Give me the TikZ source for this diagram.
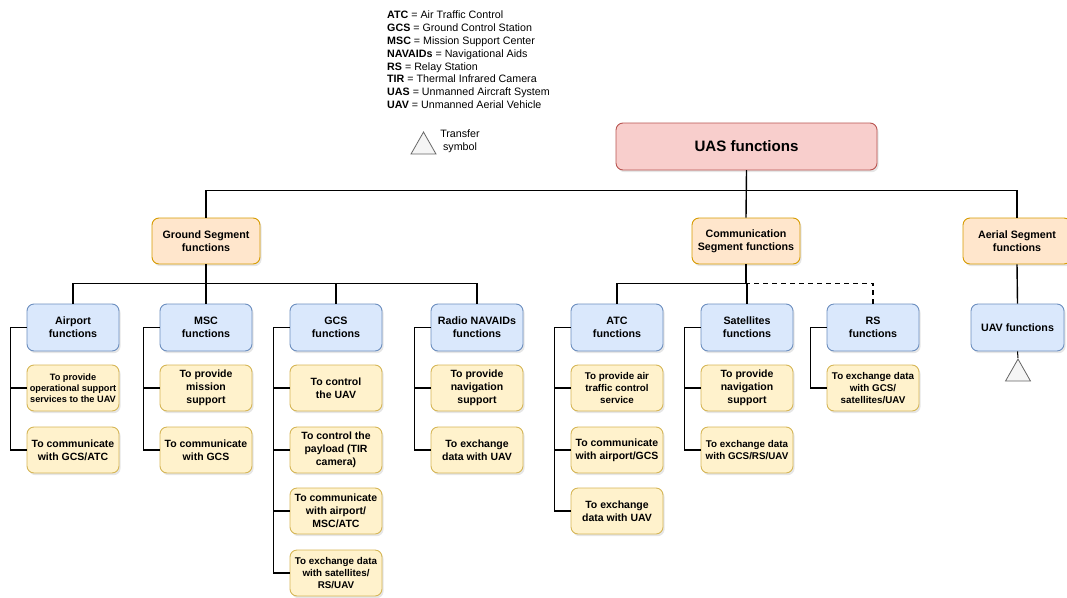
\documentclass[tikz,border=0pt]{standalone}
\usepackage{fontspec}
\setmainfont{Liberation Sans}
\usetikzlibrary{shadows,shapes.geometric}

\definecolor{rootfill}{HTML}{F8CECC}
\definecolor{rootdraw}{HTML}{B85450}
\definecolor{segfill}{HTML}{FFE6CC}
\definecolor{segdraw}{HTML}{D79B00}
\definecolor{unitfill}{HTML}{DAE8FC}
\definecolor{unitdraw}{HTML}{6C8EBF}
\definecolor{taskfill}{HTML}{FFF2CC}
\definecolor{taskdraw}{HTML}{D6B656}
\definecolor{trifill}{HTML}{F5F5F5}
\definecolor{tridraw}{HTML}{666666}

\tikzset{
  box/.style={rectangle, rounded corners=7pt, line width=0.9pt, align=center,
    inner sep=0pt, font=\bfseries\fontsize{10.5}{12.8}\selectfont,
    drop shadow={shadow xshift=1.6pt, shadow yshift=-2.2pt, opacity=0.2}},
  root/.style={box, fill=rootfill, draw=rootdraw, minimum width=261pt,
    minimum height=47pt, font=\bfseries\fontsize{15.1}{18}\selectfont},
  segment/.style={box, fill=segfill, draw=segdraw, minimum width=108pt,
    minimum height=46pt, font=\bfseries\fontsize{10.7}{12.8}\selectfont},
  unit/.style={box, fill=unitfill, draw=unitdraw, minimum width=92pt,
    minimum height=47pt, font=\bfseries\fontsize{10.7}{13}\selectfont},
  task/.style={box, fill=taskfill, draw=taskdraw, minimum width=92pt,
    minimum height=46pt},
  smalltext/.style={font=\bfseries\fontsize{9.8}{11.8}\selectfont},
  tinytext/.style={font=\bfseries\fontsize{9.2}{11}\selectfont},
  link/.style={line width=1.4pt, black},
  transfer/.style={isosceles triangle, shape border rotate=90,
    isosceles triangle stretches, minimum width=25pt, minimum height=22pt,
    inner sep=0pt, draw=tridraw, fill=trifill, line width=0.8pt, anchor=apex},
  legendtext/.style={font=\fontsize{10.7}{12.9}\selectfont, inner sep=0pt}
}

\begin{document}
\begin{tikzpicture}[x=1pt, y=-1pt]
\useasboundingbox (0,0) rectangle (1067,597);

% legend
\node[legendtext, anchor=north west, align=left] (legend) at (387,10.5)
  {\textbf{ATC} = Air Traffic Control\\
   \textbf{GCS} = Ground Control Station\\
   \textbf{MSC} = Mission Support Center\\
   \textbf{NAVAIDs} = Navigational Aids\\
   \textbf{RS} = Relay Station\\
   \textbf{TIR} = Thermal Infrared Camera\\
   \textbf{UAS} = Unmanned Aircraft System\\
   \textbf{UAV} = Unmanned Aerial Vehicle};
\node[transfer] (legtri) at (423.5,131) {};
\node[legendtext, align=center] (legtrans) at (460,141.5) {Transfer\\symbol};

% root and segments
\node[root] (uas) at (746.5,146.5) {UAS functions};
\node[segment] (ground) at (206,241) {Ground Segment\\functions};
\node[segment] (comm) at (746,241) {Communication\\Segment functions};
\node[segment] (aerial) at (1017,241) {Aerial Segment\\functions};

% ground segment units
\node[unit] (airport) at (73,327.5) {Airport\\functions};
\node[unit] (msc) at (206,327.5) {MSC\\functions};
\node[unit] (gcs) at (336,327.5) {GCS\\functions};
\node[unit] (navaids) at (477,327.5) {Radio NAVAIDs\\functions};

% communication segment units
\node[unit] (atc) at (617,327.5) {ATC\\functions};
\node[unit] (sat) at (747,327.5) {Satellites\\functions};
\node[unit] (rs) at (873,327.5) {RS\\functions};

% aerial segment unit
\node[unit, minimum width=93pt] (uav) at (1017.5,327.5) {UAV functions};
\node[transfer] (uavtri) at (1018,358) {};

% tasks
\node[task, tinytext] (ap1) at (73,388) {To provide\\operational support\\services to the UAV};
\node[task] (ap2) at (73,450) {To communicate\\with GCS/ATC};

\node[task] (ms1) at (206,388) {To provide\\mission\\support};
\node[task] (ms2) at (206,450) {To communicate\\with GCS};

\node[task] (gc1) at (336,388) {To control\\the UAV};
\node[task] (gc2) at (336,450) {To control the\\payload (TIR\\camera)};
\node[task] (gc3) at (336,511) {To communicate\\with airport/\\MSC/ATC};
\node[task, smalltext] (gc4) at (336,573) {To exchange data\\with satellites/\\RS/UAV};

\node[task] (na1) at (477,388) {To provide\\navigation\\support};
\node[task] (na2) at (477,450) {To exchange\\data with UAV};

\node[task, smalltext] (at1) at (617,388) {To provide air\\traffic control\\service};
\node[task] (at2) at (617,450) {To communicate\\with airport/GCS};
\node[task] (at3) at (617,511) {To exchange\\data with UAV};

\node[task] (sa1) at (747,388) {To provide\\navigation\\support};
\node[task, smalltext] (sa2) at (747,450) {To exchange data\\with GCS/RS/UAV};

\node[task, smalltext] (rs1) at (873,388) {To exchange data\\with GCS/\\satellites/UAV};

% tree connectors
\draw[link] (uas.south) -- ++(0,20) -| (ground.north);
\draw[link] (uas.south) -- ++(0,20) -| (aerial.north);
\draw[link] (uas.south) -- (comm.north);

\foreach \u in {airport,msc,gcs,navaids}
  \draw[link] (ground.south) -- ++(0,19) -| (\u.north);

\draw[link, dash pattern=on 5pt off 4pt] (comm.south) -- ++(0,19) -| (rs.north);
\foreach \u in {atc,sat}
  \draw[link] (comm.south) -- ++(0,19) -| (\u.north);

\draw[link] (aerial.south) -- (uav.north);
\draw[link, line width=1pt] (uav.south) -- (uavtri.apex);

% task connectors
\foreach \p/\c in {airport/ap1, airport/ap2, msc/ms1, msc/ms2,
                   gcs/gc1, gcs/gc2, gcs/gc3, gcs/gc4,
                   navaids/na1, navaids/na2,
                   atc/at1, atc/at2, atc/at3,
                   sat/sa1, sat/sa2, rs/rs1}
  \draw[link] (\p.west) -- ++(-16,0) |- (\c.west);
\end{tikzpicture}
\end{document}
